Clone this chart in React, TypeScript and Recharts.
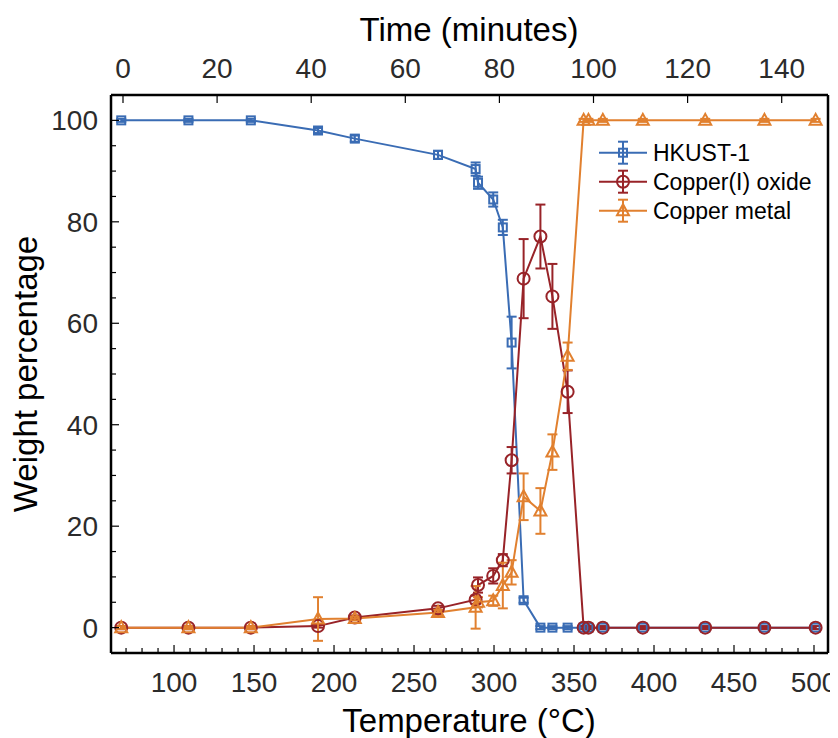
import React from 'react';
import { LineChart, Line, XAxis, YAxis, ErrorBar, ReferenceLine, Legend, Label } from 'recharts';

// ---- data ----
const temperatures = [67, 109, 148, 190, 213, 265, 288.5, 290, 299.5, 305.5, 311, 318.5, 329, 336.5, 346, 356, 359, 368, 393, 432, 469, 501];
const hkust = [100, 100, 100, 98.0, 96.4, 93.2, 90.4, 87.7, 84.4, 78.9, 56.2, 5.4, 0, 0, 0, 0, 0, 0, 0, 0, 0, 0];
const hkustErr = [0.3, 0.3, 0.3, 0.5, 0.6, 0.8, 1.3, 1.2, 1.4, 1.5, 5.1, 0.5, 0.3, 0.3, 0.3, 0.3, 0.3, 0.3, 0.3, 0.3, 0.3, 0.3];
const copperOxide = [0, 0, 0, 0.3, 2.0, 3.8, 5.5, 8.4, 10.2, 13.3, 33.0, 68.8, 77.1, 65.3, 46.5, 0, 0, 0, 0, 0, 0, 0];
const copperOxideErr = [0.3, 0.3, 0.3, 0.3, 0.4, 0.5, 0.8, 1.5, 1.5, 1.2, 2.6, 7.8, 6.3, 6.4, 4.2, 0.3, 0.3, 0.3, 0.3, 0.3, 0.3, 0.3];
const copperMetal = [0, 0, 0, 1.7, 1.8, 3.0, 4.0, 5.0, 5.3, 8.3, 10.9, 25.8, 23.0, 34.6, 53.5, 100, 100, 100, 100, 100, 100, 100];
const copperMetalErr = [0.3, 0.3, 0.3, 4.3, 0.4, 0.5, 4.2, 1.0, 1.0, 4.5, 2.4, 4.6, 4.5, 3.5, 2.7, 0.3, 0.3, 0.3, 0.3, 0.3, 0.3, 0.3];

const tempTicks = [70, 80, 90, 100, 110, 120, 130, 140, 150, 160, 170, 180, 190, 200, 210, 220, 230, 240, 250, 260, 270, 280, 290, 300, 310, 320, 330, 340, 350, 360, 370, 380, 390, 400, 410, 420, 430, 440, 450, 460, 470, 480, 490, 500];
const timeTicks = [0, 20, 40, 60, 80, 100, 120, 140];
const weightTicks = [0, 5, 10, 15, 20, 25, 30, 35, 40, 45, 50, 55, 60, 65, 70, 75, 80, 85, 90, 95, 100];

const seriesNames = ['HKUST-1', 'Copper(I) oxide', 'Copper metal'];

const rows = temperatures.map((t, i) => ({
  t,
  hk: hkust[i],
  hkErr: hkustErr[i],
  ox: copperOxide[i],
  oxErr: copperOxideErr[i],
  cu: copperMetal[i],
  cuErr: copperMetalErr[i],
}));

const BLUE = '#3a6cb4';
const RED = '#982328';
const ORANGE = '#e1802f';
const FONT = '"Liberation Sans", Arial, Helvetica, sans-serif';
const TICK_COLOR = '#2b2b2b';

const Square = ({ cx, cy, color }: any) => (
  <rect x={cx - 4} y={cy - 4} width={8} height={8} fill="none" stroke={color} strokeWidth={2} />
);
const Circle = ({ cx, cy, color }: any) => (
  <circle cx={cx} cy={cy} r={6} fill="none" stroke={color} strokeWidth={2} />
);
const Triangle = ({ cx, cy, color }: any) => (
  <polygon
    points={`${cx},${cy - 6.5} ${cx - 6},${cy + 4.5} ${cx + 6},${cy + 4.5}`}
    fill="none"
    stroke={color}
    strokeWidth={2}
    strokeLinejoin="miter"
  />
);

const BottomTick = (props: any) => {
  const { x, y, payload } = props;
  const v = payload.value;
  const major = v % 50 === 0;
  return (
    <g>
      <line x1={x} x2={x} y1={y} y2={y - (major ? 8 : 5)} stroke="#000" strokeWidth={1.2} />
      {major && (
        <text x={x} y={y + 39} textAnchor="middle" fontSize={28} fill={TICK_COLOR} fontFamily={FONT}>
          {v}
        </text>
      )}
    </g>
  );
};

const TopTick = (props: any) => {
  const { x, y, payload } = props;
  return (
    <g>
      <line x1={x} x2={x} y1={y} y2={y + 8} stroke="#000" strokeWidth={1.2} />
      <text x={x} y={y - 17} textAnchor="middle" fontSize={28} fill={TICK_COLOR} fontFamily={FONT}>
        {payload.value}
      </text>
    </g>
  );
};

const LeftTick = (props: any) => {
  const { x, y, payload } = props;
  const v = payload.value;
  const major = v % 20 === 0;
  return (
    <g>
      <line x1={x} x2={x + (major ? 8 : 5)} y1={y} y2={y} stroke="#000" strokeWidth={1.2} />
      {major && (
        <text x={x - 13} y={y + 10} textAnchor="end" fontSize={28} fill={TICK_COLOR} fontFamily={FONT}>
          {v}
        </text>
      )}
    </g>
  );
};

const legendItems = [
  { name: seriesNames[0], color: BLUE, Marker: Square },
  { name: seriesNames[1], color: RED, Marker: Circle },
  { name: seriesNames[2], color: ORANGE, Marker: Triangle },
];

const renderLegend = () => (
  <svg width={240} height={92} style={{ display: 'block' }}>
    {legendItems.map((it, i) => {
      const cy = 14.7 + i * 29;
      const M = it.Marker;
      return (
        <g key={it.name}>
          <line x1={6} x2={54} y1={cy} y2={cy} stroke={it.color} strokeWidth={2} />
          <line x1={30} x2={30} y1={cy - 11} y2={cy + 11} stroke={it.color} strokeWidth={2} />
          <line x1={25} x2={35} y1={cy - 11} y2={cy - 11} stroke={it.color} strokeWidth={2} />
          <line x1={25} x2={35} y1={cy + 11} y2={cy + 11} stroke={it.color} strokeWidth={2} />
          <M cx={30} cy={cy} color={it.color} />
          <text x={60} y={cy + 8} fontSize={23} fill="#000" fontFamily={FONT}>
            {it.name}
          </text>
        </g>
      );
    })}
  </svg>
);

export default function App() {
  return (
    <div style={{ width: 830, height: 730, fontFamily: FONT }}>
      <LineChart
        width={830}
        height={730}
        data={rows}
        margin={{ top: 0, right: 10, bottom: 0, left: 0 }}
      >
        <XAxis
          xAxisId="temp"
          dataKey="t"
          type="number"
          orientation="bottom"
          domain={[60.6, 508.75]}
          allowDataOverflow
          ticks={tempTicks}
          interval={0}
          height={85}
          tickSize={0}
          tickMargin={0}
          tickLine={false}
          axisLine={{ stroke: '#000', strokeWidth: 2.5 }}
          tick={BottomTick}
        >
          <Label
            content={() => (
              <text x={461} y={724} textAnchor="middle" fontSize={33} fill="#000" fontFamily={FONT}>
                Temperature (°C)
              </text>
            )}
          />
        </XAxis>
        <XAxis
          xAxisId="time"
          dataKey="t"
          type="number"
          orientation="top"
          domain={[-2.55, 149.84]}
          allowDataOverflow
          ticks={timeTicks}
          interval={0}
          height={87}
          tickSize={0}
          tickMargin={0}
          tickLine={false}
          axisLine={{ stroke: '#000', strokeWidth: 2.5 }}
          tick={TopTick}
        >
          <Label
            content={() => (
              <text x={461} y={33} textAnchor="middle" fontSize={33} fill="#000" fontFamily={FONT}>
                Time (minutes)
              </text>
            )}
          />
        </XAxis>
        <YAxis
          yAxisId="w"
          type="number"
          domain={[-5, 105]}
          allowDataOverflow
          ticks={weightTicks}
          interval={0}
          width={103}
          tickSize={0}
          tickMargin={0}
          tickLine={false}
          axisLine={{ stroke: '#000', strokeWidth: 2.5 }}
          tick={LeftTick}
        >
          <Label
            content={() => (
              <text
                x={29}
                y={366}
                textAnchor="middle"
                fontSize={33}
                fill="#000"
                fontFamily={FONT}
                transform="rotate(-90 29 366)"
              >
                Weight percentage
              </text>
            )}
          />
        </YAxis>
        <ReferenceLine xAxisId="temp" yAxisId="w" x={508.75} stroke="#000" strokeWidth={2.5} />
        <Line
          xAxisId="temp"
          yAxisId="w"
          dataKey="hk"
          name={seriesNames[0]}
          stroke={BLUE}
          strokeWidth={2}
          isAnimationActive={false}
          activeDot={false}
          dot={(p: any) => <Square key={`hk-${p.index}`} cx={p.cx} cy={p.cy} color={BLUE} />}
        >
          <ErrorBar dataKey="hkErr" direction="y" width={5} strokeWidth={2} stroke={BLUE} />
        </Line>
        <Line
          xAxisId="temp"
          yAxisId="w"
          dataKey="ox"
          name={seriesNames[1]}
          stroke={RED}
          strokeWidth={2}
          isAnimationActive={false}
          activeDot={false}
          dot={(p: any) => <Circle key={`ox-${p.index}`} cx={p.cx} cy={p.cy} color={RED} />}
        >
          <ErrorBar dataKey="oxErr" direction="y" width={5} strokeWidth={2} stroke={RED} />
        </Line>
        <Line
          xAxisId="temp"
          yAxisId="w"
          dataKey="cu"
          name={seriesNames[2]}
          stroke={ORANGE}
          strokeWidth={2}
          isAnimationActive={false}
          activeDot={false}
          dot={(p: any) => <Triangle key={`cu-${p.index}`} cx={p.cx} cy={p.cy} color={ORANGE} />}
        >
          <ErrorBar dataKey="cuErr" direction="y" width={5} strokeWidth={2} stroke={ORANGE} />
        </Line>
        <Legend
          layout="horizontal"
          verticalAlign="middle"
          align="center"
          content={renderLegend}
          wrapperStyle={{ left: 585, top: 130, width: 240, height: 92 }}
        />
      </LineChart>
    </div>
  );
}
